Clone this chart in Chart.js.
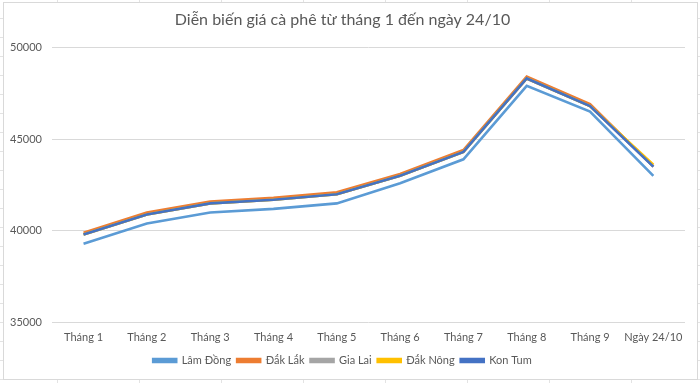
<!DOCTYPE html>
<html lang="vi">
<head>
    <meta charset="UTF-8">
    <title>Diễn biến giá cà phê</title>
    <script src="https://cdn.jsdelivr.net/npm/chart.js"></script>
    <style>
        html, body {
            margin: 0;
            padding: 0;
            width: 700px;
            height: 383px;
            overflow: hidden;
            background-color: #ffffff;
            background-image:
                repeating-linear-gradient(to right, transparent 0, transparent 57px, #e3e3e3 57px, #e3e3e3 58px, transparent 58px, transparent 82px),
                repeating-linear-gradient(to bottom, transparent 0, transparent 18px, #e3e3e3 18px, #e3e3e3 19px);
        }
        .chart-box {
            position: absolute;
            left: 3px;
            top: 2px;
            width: 695px;
            height: 378px;
            box-sizing: border-box;
            border: 1px solid #d9d9d9;
            background: #ffffff;
        }
    </style>
</head>
<body>
    <div class="chart-box">
        <canvas id="coffeeChart"></canvas>
    </div>

    <script>
        const labels = ["Tháng 1", "Tháng 2", "Tháng 3", "Tháng 4", "Tháng 5", "Tháng 6", "Tháng 7", "Tháng 8", "Tháng 9", "Ngày 24/10"];

        const lamDong = [39300, 40400, 41000, 41200, 41500, 42600, 43900, 47900, 46500, 43000];
        const dakLak  = [39900, 41000, 41600, 41800, 42100, 43100, 44400, 48400, 46900, 43500];
        const giaLai  = [39800, 40900, 41500, 41700, 42000, 43000, 44300, 48300, 46800, 43500];
        const dakNong = [39800, 40900, 41500, 41700, 42000, 43000, 44300, 48300, 46800, 43600];
        const konTum  = [39800, 40900, 41500, 41700, 42000, 43000, 44300, 48300, 46800, 43500];

        const seriesNames = ["Lâm Đồng", "Đắk Lắk", "Gia Lai", "Đắk Nông", "Kon Tum"];
        const seriesData = [lamDong, dakLak, giaLai, dakNong, konTum];
        const colors = ["#5b9bd5", "#ed7d31", "#a5a5a5", "#ffc000", "#4472c4"];

        const font = "Lato, 'Open Sans', sans-serif";

        // Excel draws later series on top, so lower order for later series
        const datasets = seriesNames.map((name, i) => ({
            label: name,
            data: seriesData[i],
            borderColor: colors[i],
            backgroundColor: colors[i],
            borderWidth: 2.6,
            pointRadius: 0,
            tension: 0,
            fill: false,
            order: seriesNames.length - i
        }));

        new Chart(document.getElementById('coffeeChart'), {
            type: 'line',
            data: { labels: labels, datasets: datasets },
            options: {
                responsive: true,
                maintainAspectRatio: false,
                animation: false,
                layout: { padding: { left: -4, right: 12, top: 5, bottom: 3 } },
                plugins: {
                    title: {
                        display: true,
                        text: 'Diễn biến giá cà phê từ tháng 1 đến ngày 24/10',
                        color: '#595959',
                        font: { family: font, size: 16, weight: 'normal' },
                        padding: { top: 2, bottom: 18 }
                    },
                    legend: {
                        position: 'bottom',
                        labels: {
                            color: '#595959',
                            font: { family: font, size: 11 },
                            boxWidth: 23,
                            boxHeight: 3,
                            padding: 6,
                            sort: (a, b) => a.datasetIndex - b.datasetIndex
                        }
                    },
                    tooltip: { enabled: false }
                },
                scales: {
                    x: {
                        offset: true,
                        grid: { display: false },
                        border: { display: false },
                        ticks: {
                            color: '#595959',
                            font: { family: font, size: 11 },
                            maxRotation: 0,
                            autoSkip: false,
                            padding: 0
                        },
                        afterFit: (scale) => { scale.height += 5; }
                    },
                    y: {
                        min: 35000,
                        max: 50000,
                        ticks: {
                            stepSize: 5000,
                            color: '#595959',
                            font: { family: font, size: 11 },
                            padding: 10,
                            callback: (v) => String(v)
                        },
                        grid: { color: '#d9d9d9', drawTicks: false },
                        border: { display: false }
                    }
                }
            }
        });
    </script>
</body>
</html>
